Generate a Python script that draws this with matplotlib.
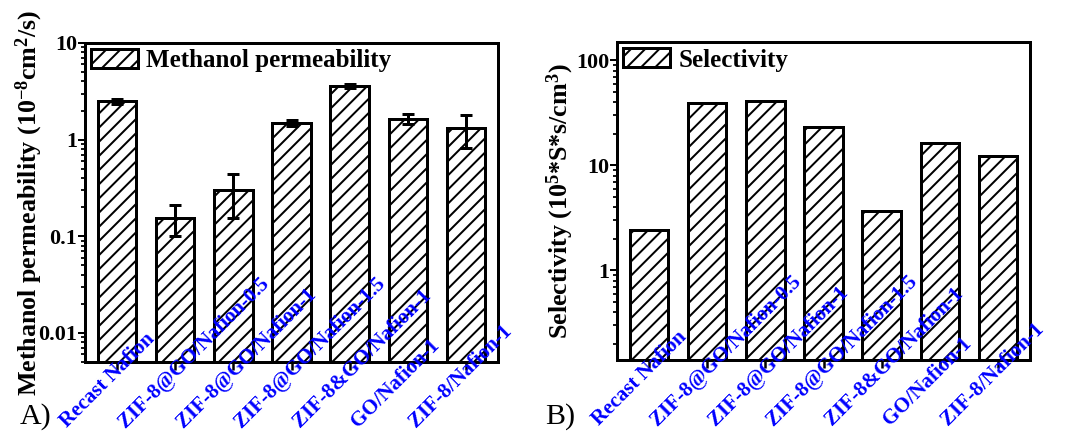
import numpy as np
import matplotlib
matplotlib.use('Agg')
import matplotlib.pyplot as plt
from matplotlib.transforms import ScaledTranslation

DPI = 85.
def pt(px):
    # pixels -> points at this dpi
    return px * 72. / DPI

plt.rcParams['font.family'] = 'Liberation Serif'
plt.rcParams['font.weight'] = 'bold'
plt.rcParams['axes.labelweight'] = 'bold'
plt.rcParams['mathtext.fontset'] = 'custom'
plt.rcParams['mathtext.rm'] = 'Liberation Serif:bold'
plt.rcParams['mathtext.it'] = 'Liberation Serif:bold'
plt.rcParams['mathtext.bf'] = 'Liberation Serif:bold'
plt.rcParams['mathtext.default'] = 'bf'
plt.rcParams['hatch.linewidth'] = pt(2.0)

samples = ['Recast Nafion', 'ZIF-8@GO/Nafion-0.5', 'ZIF-8@GO/Nafion-1',
           'ZIF-8@GO/Nafion-1.5', 'ZIF-8&GO/Nafion-1', 'GO/Nafion-1',
           'ZIF-8/Nafion-1']
permeability = [2.5, 0.155, 0.30, 1.49, 3.6, 1.64, 1.32]   # 10^-8 cm2/s
perm_err = [0.15, 0.055, 0.145, 0.1, 0.15, 0.2, 0.5]
selectivity = [2.43, 39.7, 41.2, 23.0, 3.67, 16.3, 12.4]   # 10^5 S s/cm3

fig = plt.figure(figsize=(1065 / DPI, 432 / DPI), dpi=DPI)

def make_panel(rect, values, yerr, ylim, ylabel, legend_label, label_x, tag, tag_x):
    ax = fig.add_axes(rect)
    ax.set_axisbelow(False)
    x = np.arange(len(samples))
    ax.bar(x, values, width=0.66, color='white', edgecolor='black',
           linewidth=pt(3), hatch='//', label=legend_label, zorder=2)
    if yerr is not None:
        ax.errorbar(x, values, yerr=yerr, fmt='none', ecolor='black',
                    elinewidth=pt(3), capsize=pt(6), capthick=pt(3), zorder=3)
    ax.set_yscale('log')
    ax.set_ylim(*ylim)
    ax.set_xlim(-0.55, 6.55)
    for s in ax.spines.values():
        s.set_linewidth(pt(3))
    ax.tick_params(axis='y', which='major', direction='out', length=pt(7),
                   width=pt(2), labelsize=pt(22), pad=pt(1))
    ax.tick_params(axis='y', which='minor', direction='out', length=pt(4), width=pt(1.8))
    ax.tick_params(axis='x', direction='out', length=pt(8), width=pt(2.5), pad=0)
    ax.yaxis.set_major_formatter(matplotlib.ticker.FuncFormatter(lambda v, p: '%g' % v))
    ax.set_xticks(x)
    ax.set_xticklabels(samples, rotation=45, rotation_mode='anchor', ha='left',
                       va='baseline', color='blue', fontsize=pt(21))
    off = ScaledTranslation(-50. / DPI, -58. / DPI, fig.dpi_scale_trans)
    for lab in ax.get_xticklabels():
        lab.set_transform(lab.get_transform() + off)
    ax.set_ylabel(ylabel, fontsize=pt(26), fontweight='bold')
    ax.yaxis.set_label_coords(label_x, 0.5)
    ax.legend(loc='upper left', frameon=False, fontsize=pt(25), handlelength=1.85,
              handleheight=0.8, handletextpad=0.35, borderaxespad=0.15, borderpad=0.1)
    fig.text(tag_x / 1065., 1 - 424. / 432, tag, fontsize=pt(30), fontweight='normal',
             ha='left', va='baseline')
    return ax

axA = make_panel([85 / 1065., 70 / 432., 413 / 1065., 319 / 432.], permeability, perm_err,
                 (0.005, 10), r'Methanol permeability (10$^{-8}$cm$^{2}$/s)',
                 'Methanol permeability', -0.097, 'A)', 20)
axB = make_panel([617 / 1065., 72 / 432., 413 / 1065., 318 / 432.], selectivity, None,
                 (0.14, 150), r'Selectivity (10$^{5}$*S*s/cm$^{3}$)',
                 'Selectivity', -0.10, 'B)', 545)

fig.savefig('out.png', dpi=DPI)
